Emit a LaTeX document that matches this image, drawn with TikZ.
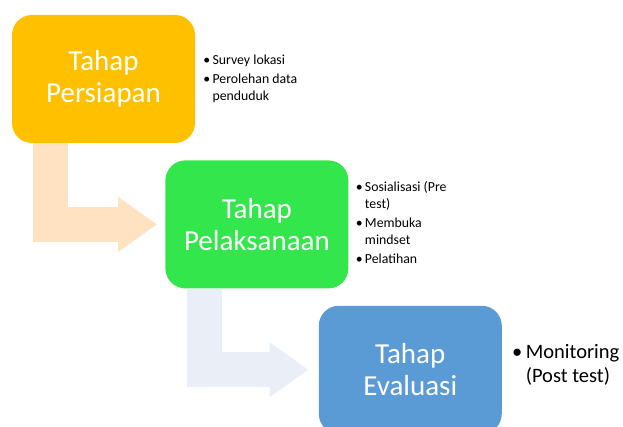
\documentclass[tikz,border=0pt]{standalone}
\usepackage{fontspec}
\setmainfont{Carlito}
\usetikzlibrary{positioning,arrows.meta}

\definecolor{gold}{HTML}{FFC000}
\definecolor{lime}{HTML}{33E64B}
\definecolor{sky}{HTML}{5B9BD5}
\definecolor{peach}{HTML}{FFE2C2}
\definecolor{mist}{HTML}{E9EEF7}

\begin{document}
\begin{tikzpicture}[
                    x=1pt, y=1pt,
                    stage/.style={rectangle, rounded corners=20pt, minimum width=183pt, minimum height=128pt, align=center, text=white, font=\fontsize{29}{32}\selectfont},
                    notes/.style={anchor=west, inner sep=0pt, align=left, font=\fontsize{13.8}{17}\selectfont},
                    bentarrow/.style={line width=35pt, -{Triangle[length=39pt, width=52pt]}}
                ]
                    \useasboundingbox (0,0) rectangle (623,427);
                    \node[stage, fill=gold] (p1) at (103.5,348) {Tahap\\Persiapan};
                    \node[stage, fill=lime, below right=17pt and -30pt of p1] (p2) {Tahap\\Pelaksanaan};
                    \node[stage, fill=sky, below right=17pt and -30pt of p2] (p3) {Tahap\\Evaluasi};

                    % bullet notes
                    \node[notes, right=8pt of p1] (n1) {\begin{tabular}{@{}l@{\,}l@{}}
                        \textbullet & Survey lokasi\\[2pt]
                        \textbullet & Perolehan data\\
                                    & penduduk
                    \end{tabular}};
                    \node[notes, right=7pt of p2] (n2) {\begin{tabular}{@{}l@{\,}l@{}}
                        \textbullet & Sosialisasi (Pre\\
                                    & test)\\[2pt]
                        \textbullet & Membuka\\
                                    & mindset\\[2pt]
                        \textbullet & Pelatihan
                    \end{tabular}};
                    \node[notes, right=10pt of p3, yshift=4pt, font=\fontsize{20.5}{24}\selectfont] (n3) {\begin{tabular}{@{}l@{\,}l@{}}
                        \textbullet & Monitoring\\
                                    & (Post test)
                    \end{tabular}};

                    % bent arrows
                    \draw[bentarrow, peach] ([xshift=-53pt]p1.south) |- ([xshift=-8pt]p2.west);
                    \draw[bentarrow, mist] ([xshift=-52pt]p2.south) |- ([xshift=-10pt]p3.west);
                \end{tikzpicture}
\end{document}
